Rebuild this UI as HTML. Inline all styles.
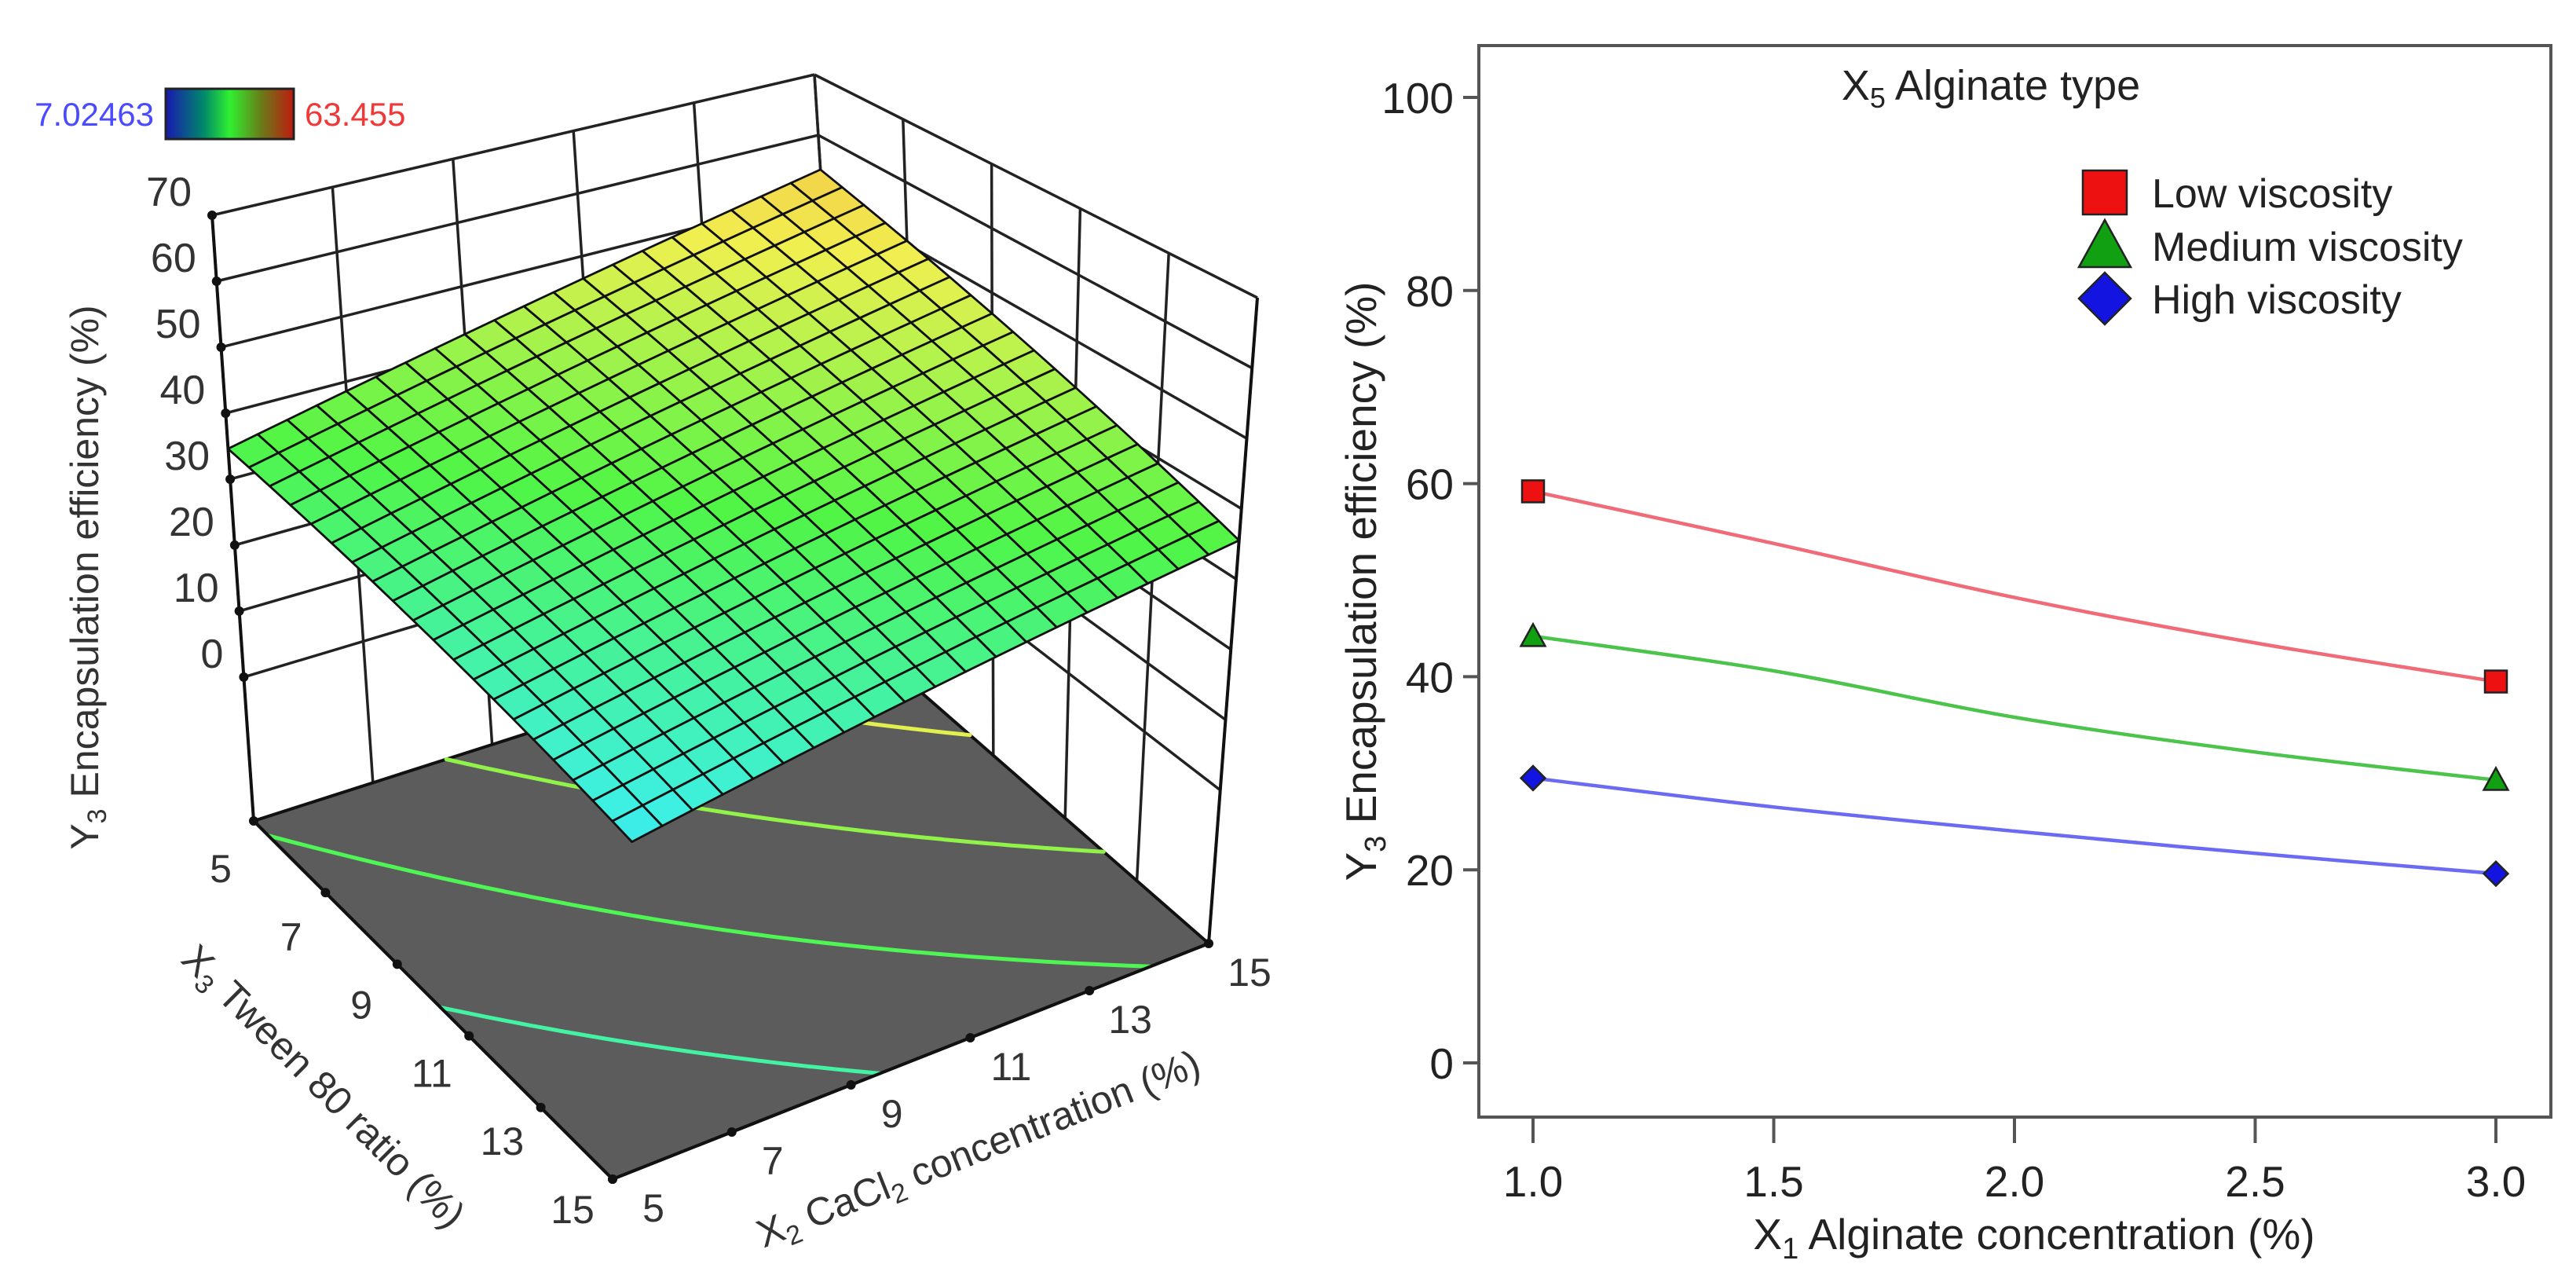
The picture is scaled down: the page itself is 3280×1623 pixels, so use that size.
<!DOCTYPE html>
<html><head><meta charset="utf-8"><style>
html,body{margin:0;padding:0;background:#fff;}
svg{display:block;font-family:"Liberation Sans",Arial,sans-serif;}
</style></head><body>
<svg id="fig" xmlns="http://www.w3.org/2000/svg" width="3280" height="1623" viewBox="0 0 3280 1623">
<rect width="3280" height="1623" fill="#fff"/>
<defs>
<linearGradient id="cbar" x1="0" x2="1" y1="0" y2="0">
<stop offset="0" stop-color="#1818b0"/><stop offset="0.3" stop-color="#008a6a"/><stop offset="0.5" stop-color="#30f030"/><stop offset="0.75" stop-color="#6a7a18"/><stop offset="1" stop-color="#c01a10"/>
</linearGradient>
</defs>
<g id="left"></g>
<g id="right"></g>
</svg>
<script>
// ---------- 3D surface data ----------
const surfX2 = [5, 10, 15];          // CaCl2 concentration
const surfX3 = [5, 10, 15];          // Tween 80 ratio
const surfZRow5 = [34.6, 44.5, 54.3]; // X3 = 5
const surfZRow10 = [27.3, 36.2, 44.9]; // X3 = 10
const surfZRow15 = [20.0, 27.8, 35.5]; // X3 = 15
const zTicks = [0, 10, 20, 30, 40, 50, 60, 70];
const floorTicks = [5, 7, 9, 11, 13, 15];
const contourLevels = [27, 34, 41, 48];
const cbarMin = "7.02463", cbarMax = "63.455";

// ---------- right chart data ----------
const xCats = [1.0, 1.5, 2.0, 2.5, 3.0];
const lowVisc = [59.2, 53.8, 48.2, 43.5, 39.5];
const medVisc = [44.2, 40.6, 35.8, 32.2, 29.3];
const highVisc = [29.5, 26.5, 24.0, 21.7, 19.6];
const xTickLabels = ["1.0", "1.5", "2.0", "2.5", "3.0"];
const yTickVals = [0, 20, 40, 60, 80, 100];

const NS = "http://www.w3.org/2000/svg";
function mk(parent, tag, attrs, text) {
  const e = document.createElementNS(NS, tag);
  for (const k in attrs) e.setAttribute(k, attrs[k]);
  if (text !== undefined) e.textContent = text;
  parent.appendChild(e);
  return e;
}

// ===== LEFT: 3D =====
const L = document.getElementById('left');
const ZMIN = -21.8, ZMAX = 70;
const FL = {A:[323,1045], D:[1082,802], B:[780,1501], C:[1539,1201]};
const TP = {A:[270,274], D:[1037,95], B:[834,558], C:[1601,379]};
function bil(Q, s, t) {
  return [0,1].map(i => (1-s)*(1-t)*Q.A[i] + s*(1-t)*Q.D[i] + (1-s)*t*Q.B[i] + s*t*Q.C[i]);
}
function P(u, v, z) {
  const s = (u-5)/10, t = (v-5)/10;
  const f = bil(FL, s, t), p = bil(TP, s, t);
  const k = (z - ZMIN)/(ZMAX - ZMIN);
  return [f[0] + (p[0]-f[0])*k, f[1] + (p[1]-f[1])*k];
}
const rows = [surfZRow5, surfZRow10, surfZRow15];
function interp1(xs, ys, x) {
  let i = 0; while (i < xs.length-2 && x > xs[i+1]) i++;
  const f = (x - xs[i])/(xs[i+1]-xs[i]);
  return ys[i] + (ys[i+1]-ys[i])*f;
}
function surfZ(u, v) {
  const col = rows.map(r => interp1(surfX2, r, u));
  return interp1(surfX3, col, v);
}
function cmap(z) {
  const t = Math.max(0, Math.min(1, (z - 7.02463)/(63.455 - 7.02463)));
  const st = [[0,[40,90,255]],[0.25,[60,240,230]],[0.5,[80,245,70]],[0.75,[240,240,80]],[1,[250,150,60]]];
  for (let i = 0; i < st.length-1; i++) {
    if (t <= st[i+1][0]) {
      const f = (t - st[i][0])/(st[i+1][0]-st[i][0]);
      const c = st[i][1].map((a,j) => Math.round(a + (st[i+1][1][j]-a)*f));
      return `rgb(${c[0]},${c[1]},${c[2]})`;
    }
  }
  return 'rgb(250,150,60)';
}
const pstr = pts => pts.map(p => p[0].toFixed(1)+','+p[1].toFixed(1)).join(' ');

// walls
const walls = mk(L, 'g', { stroke:'#222', 'stroke-width':3.5, fill:'none'});
zTicks.forEach(z => { const a = P(5,5,z), b = P(15,5,z);
  const ln = mk(walls,'line',{x1:a[0],y1:a[1],x2:b[0],y2:b[1]});
    });
floorTicks.forEach(u => { const a = P(u,5,ZMIN), b = P(u,5,70);
  const ln = mk(walls,'line',{x1:a[0],y1:a[1],x2:b[0],y2:b[1]});
    });
zTicks.forEach(z => { const a = P(15,5,z), b = P(15,15,z);
  const ln = mk(walls,'line',{x1:a[0],y1:a[1],x2:b[0],y2:b[1]});
    });
floorTicks.forEach(v => { const a = P(15,v,ZMIN), b = P(15,v,70);
  const ln = mk(walls,'line',{x1:a[0],y1:a[1],x2:b[0],y2:b[1]});
    });

// floor
const floor = mk(L,'polygon',{points:pstr([P(5,5,ZMIN),P(15,5,ZMIN),P(15,15,ZMIN),P(5,15,ZMIN)]), fill:'#5c5c5c', stroke:'#111','stroke-width':4});
 

// contours
const cg = mk(L,'g',{'stroke-width':5,'stroke-linecap':'round'});
const NC = 40;
contourLevels.forEach(lev => {
  let d = '';
  for (let i = 0; i < NC; i++) for (let j = 0; j < NC; j++) {
    const u0 = 5 + 10*i/NC, u1 = 5 + 10*(i+1)/NC, v0 = 5 + 10*j/NC, v1 = 5 + 10*(j+1)/NC;
    const c = [[u0,v0],[u1,v0],[u1,v1],[u0,v1]];
    const zs = c.map(p => surfZ(p[0],p[1]));
    const pts = [];
    for (let k = 0; k < 4; k++) {
      const a = zs[k], b = zs[(k+1)%4];
      if ((a - lev)*(b - lev) < 0) {
        const f = (lev - a)/(b - a);
        const p0 = c[k], p1 = c[(k+1)%4];
        pts.push(P(p0[0]+(p1[0]-p0[0])*f, p0[1]+(p1[1]-p0[1])*f, ZMIN));
      }
    }
    if (pts.length >= 2) d += `M${pts[0][0].toFixed(1)},${pts[0][1].toFixed(1)}L${pts[1][0].toFixed(1)},${pts[1][1].toFixed(1)}`;
  }
  const path = mk(cg,'path',{d:d, stroke:cmap(lev), fill:'none'});
  
  
});

// surface
const sg = mk(L,'g',{ stroke:'#111','stroke-width':2.8,'stroke-linejoin':'round'});
const N = 20, cells = [];
for (let i = 0; i < N; i++) for (let j = 0; j < N; j++) cells.push([i,j]);
cells.sort((a,b) => (a[1]-a[0]) - (b[1]-b[0]));
cells.forEach(([i,j]) => {
  const u0 = 5 + 10*i/N, u1 = 5 + 10*(i+1)/N, v0 = 5 + 10*j/N, v1 = 5 + 10*(j+1)/N;
  const q = [[u0,v0],[u1,v0],[u1,v1],[u0,v1]];
  const zs = q.map(p => surfZ(p[0],p[1]));
  const zc = (zs[0]+zs[1]+zs[2]+zs[3])/4;
  const poly = mk(sg,'polygon',{points:pstr(q.map((p,k) => P(p[0],p[1],zs[k]))), fill:cmap(zc)});
  
  
});

// front axis edges
const ax = mk(L,'g',{ stroke:'#111','stroke-width':4});
[[P(5,5,ZMIN),P(5,5,70)],[P(15,15,ZMIN),P(15,15,70)],[P(5,5,ZMIN),P(5,15,ZMIN)],[P(5,15,ZMIN),P(15,15,ZMIN)]].forEach(([a,b]) => {
  const ln = mk(ax,'line',{x1:a[0],y1:a[1],x2:b[0],y2:b[1]});
   
});
zTicks.forEach(z => {
  const p = P(5,5,z);
  const dot = mk(L,'circle',{cx:p[0],cy:p[1],r:6,fill:'#111'});
   
  const t = mk(L,'text',{x:p[0]-26,y:p[1]-12,'font-size':52,fill:'#333','text-anchor':'end'}, String(z));
   
});
floorTicks.forEach(v => {
  const p = P(5,v,ZMIN);
  const dot = mk(L,'circle',{cx:p[0],cy:p[1],r:6,fill:'#111'});
   
  const f = (v-5)/10;
  const t = mk(L,'text',{x:p[0]-42-9*f,y:p[1]+60-22*f+18,'font-size':50,fill:'#333','text-anchor':'middle'}, String(v));
   
});
floorTicks.forEach(u => {
  const p = P(u,15,ZMIN);
  const dot = mk(L,'circle',{cx:p[0],cy:p[1],r:6,fill:'#111'});
   
  const t = mk(L,'text',{x:p[0]+52,y:p[1]+54,'font-size':50,fill:'#333','text-anchor':'middle'}, String(u));
   
});
</script>
<script>
(function(){
const L = document.getElementById('left');
L.insertAdjacentHTML('beforeend', `
<text transform="translate(125,735) rotate(-90)" text-anchor="middle" font-size="50" fill="#333">Y<tspan font-size="34" dy="10">3</tspan><tspan dy="-10"> Encapsulation efficiency (%)</tspan></text>
<text transform="translate(400,1395) rotate(45)" text-anchor="middle" font-size="50" fill="#333">X<tspan font-size="34" dy="10">3</tspan><tspan dy="-10"> Tween 80 ratio (%)</tspan></text>
<text transform="translate(1252,1478) rotate(-21.6)" text-anchor="middle" font-size="50" fill="#333">X<tspan font-size="34" dy="10">2</tspan><tspan dy="-10"> CaCl</tspan><tspan font-size="34" dy="10">2</tspan><tspan dy="-10"> concentration (%)</tspan></text>
<g>
<text x="196" y="160" text-anchor="end" font-size="42" fill="#4a4aff">${cbarMin}</text>
<rect x="211" y="113" width="163" height="64" fill="url(#cbar)" stroke="#222" stroke-width="3"/>
<text x="388" y="160" font-size="42" fill="#f03838">${cbarMax}</text>
</g>`);
})();

// ===== RIGHT CHART =====
(function(){
const R = document.getElementById('right');
const NS = "http://www.w3.org/2000/svg";
function mk(parent, tag, attrs, text) {
  const e = document.createElementNS(NS, tag);
  for (const k in attrs) e.setAttribute(k, attrs[k]);
  if (text !== undefined) e.textContent = text;
  parent.appendChild(e); return e;
}
const X0 = 1883, X1 = 3248, Y0 = 58, Y1 = 1422;
const xS = v => 1952 + (v - 1.0)*(3178 - 1952)/2.0;
const yS = v => 1353 - v*12.29;
const box = mk(R,'rect',{x:X0,y:Y0,width:X1-X0,height:Y1-Y0,fill:'none',stroke:'#555','stroke-width':4});
 
yTickVals.forEach(v => {
  const y = yS(v);
  const t = mk(R,'line',{x1:X0-20,y1:y,x2:X0,y2:y,stroke:'#555','stroke-width':4});
   
  const l = mk(R,'text',{x:X0-32,y:y+20,'font-size':55,fill:'#222','text-anchor':'end'},String(v));
   
});
xCats.forEach((v,i) => {
  const x = xS(v);
  const t = mk(R,'line',{x1:x,y1:Y1,x2:x,y2:Y1+33,stroke:'#555','stroke-width':4});
   
  const l = mk(R,'text',{x:x,y:1523,'font-size':55,fill:'#222','text-anchor':'middle'},xTickLabels[i]);
   
});
R.insertAdjacentHTML('beforeend',`
<text x="2590" y="1590" text-anchor="middle" font-size="55" fill="#222">X<tspan font-size="38" dy="12">1</tspan><tspan dy="-12"> Alginate concentration (%)</tspan></text>
<text transform="translate(1752,740) rotate(-90)" text-anchor="middle" font-size="55" fill="#222">Y<tspan font-size="38" dy="12">3</tspan><tspan dy="-12"> Encapsulation efficiency (%)</tspan></text>
<text x="2535" y="127" text-anchor="middle" font-size="54" fill="#222">X<tspan font-size="36" dy="10">5</tspan><tspan dy="-10"> Alginate type</tspan></text>`);
function smooth(pts) {
  let d = `M${pts[0][0]},${pts[0][1]}`;
  for (let i = 0; i < pts.length-1; i++) {
    const p0 = pts[Math.max(0,i-1)], p1 = pts[i], p2 = pts[i+1], p3 = pts[Math.min(pts.length-1,i+2)];
    const c1 = [p1[0]+(p2[0]-p0[0])/6, p1[1]+(p2[1]-p0[1])/6];
    const c2 = [p2[0]-(p3[0]-p1[0])/6, p2[1]-(p3[1]-p1[1])/6];
    d += `C${c1[0].toFixed(1)},${c1[1].toFixed(1)} ${c2[0].toFixed(1)},${c2[1].toFixed(1)} ${p2[0].toFixed(1)},${p2[1].toFixed(1)}`;
  }
  return d;
}
function marker(g, shape, x, y, s, fill) {
  let e;
  if (shape === 'square') e = mk(g,'rect',{x:x-s/2,y:y-s/2,width:s,height:s,fill:fill,stroke:'#222','stroke-width':2.5});
  else if (shape === 'tri') e = mk(g,'polygon',{points:`${x},${y-s*0.55} ${x+s*0.55},${y+s*0.45} ${x-s*0.55},${y+s*0.45}`,fill:fill,stroke:'#222','stroke-width':2.5});
  else e = mk(g,'polygon',{points:`${x},${y-s*0.55} ${x+s*0.55},${y} ${x},${y+s*0.55} ${x-s*0.55},${y}`,fill:fill,stroke:'#222','stroke-width':2.5});
  return e;
}
const series = [
  ['low-viscosity', lowVisc, '#f06a78', 'square', '#ee1111', 'Low viscosity', 245],
  ['medium-viscosity', medVisc, '#4cc44c', 'tri', '#11a011', 'Medium viscosity', 313],
  ['high-viscosity', highVisc, '#6a6af2', 'diamond', '#1414e0', 'High viscosity', 380]
];
series.forEach(([name, vals, lc, shp, mc, label, ly]) => {
  const g = mk(R,'g',{});
  
  
  const pts = xCats.map((x,i) => [xS(x), yS(vals[i])]);
  const line = mk(g,'path',{d:smooth(pts),fill:'none',stroke:lc,'stroke-width':4.5});
  
  
  [0, xCats.length-1].forEach(i => {
    const m = marker(g, shp, pts[i][0], pts[i][1], 28, mc);
    
    
  });
  const lg = mk(R,'g',{});
  
  
  const lm = marker(lg, shp, 2680, ly, shp==='square'?56:60, mc);
  
  
  const lt = mk(lg,'text',{x:2740,y:ly+19,'font-size':52,fill:'#222'},label);
  
  
});
})();
</script>
</body></html>
